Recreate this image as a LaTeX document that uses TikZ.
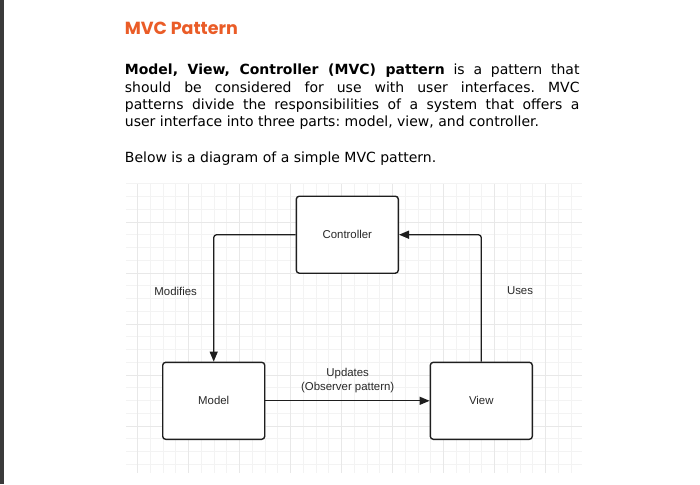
\documentclass[tikz,border=0pt]{standalone}
\usepackage{fontspec}
\setmainfont{DejaVu Sans}
\newfontfamily\diagfont{Liberation Sans}
\newfontfamily\titlefont{Poppins}
\usetikzlibrary{arrows.meta}
\definecolor{titleorange}{RGB}{234,92,39}
\definecolor{sidebar}{RGB}{58,58,58}
\definecolor{gridminor}{RGB}{243,243,243}
\definecolor{gridmajor}{RGB}{232,232,232}
\definecolor{boxline}{RGB}{30,30,30}
\definecolor{diagtext}{RGB}{40,40,40}
\tikzset{
  bodyline/.style={anchor=base west, inner sep=0pt, font=\frenchspacing\fontsize{14}{17}\selectfont, text=black},
  mvcbox/.style={draw=boxline, line width=1.4pt, rounded corners=3pt, fill=white,
    minimum width=102pt, minimum height=77pt, inner sep=0pt,
    font=\diagfont\fontsize{11.4}{14}\selectfont, text=diagtext},
  conn/.style={draw=boxline, line width=1.3pt, rounded corners=3pt,
    -{Triangle[length=10pt,width=8pt]}},
  lbl/.style={inner sep=0pt, align=center, font=\diagfont\fontsize{11.4}{14}\selectfont, text=diagtext},
  gminor/.style={draw=gridminor, line width=0.8pt},
  gmajor/.style={draw=gridmajor, line width=0.9pt}
}
\begin{document}
\begin{tikzpicture}[x=1pt,y=-1pt]
\useasboundingbox (0,0) rectangle (700,484);
\fill[white] (0,0) rectangle (700,484);
\fill[sidebar] (0,0) rectangle (4,484);

% grid
\foreach \k in {0,...,34} {
  \pgfmathsetmacro\xx{137.5+12.75*\k}
  \draw[gminor] (\xx,184) -- (\xx,473);
}
\foreach \k in {-1,...,21} {
  \pgfmathsetmacro\yy{196.5+12.75*\k}
  \draw[gminor] (126,\yy) -- (582,\yy);
}
\foreach \k in {0,4,...,32} {
  \pgfmathsetmacro\xx{137.5+12.75*\k}
  \draw[gmajor] (\xx,184) -- (\xx,473);
}
\foreach \k in {2,6,...,18} {
  \pgfmathsetmacro\yy{196.5+12.75*\k}
  \draw[gmajor] (126,\yy) -- (582,\yy);
}

% title and text
\node[anchor=base west, inner sep=0pt, font=\titlefont\bfseries\fontsize{17.5}{21}\selectfont, text=titleorange] (title) at (124.7,35) {MVC Pattern};
\node[bodyline] (l1) at (124.7,75) {\makebox[454.6pt][s]{\textbf{Model, View, Controller (MVC) pattern} is a pattern that}};
\node[bodyline] (l2) at (124.7,92.3) {\makebox[454.6pt][s]{should be considered for use with user interfaces. MVC}};
\node[bodyline] (l3) at (124.7,109.6) {\makebox[454.6pt][s]{patterns divide the responsibilities of a system that offers a}};
\node[bodyline] (l4) at (124.7,126.9) {user interface into three parts: model, view, and controller.};
\node[bodyline] (l5) at (124.7,162) {Below is a diagram of a simple MVC pattern.};

% boxes
\node[mvcbox] (ctrl) at (347.3,234.7) {Controller};
\node[mvcbox] (model) at (213.7,400.8) {Model};
\node[mvcbox] (view) at (481.3,400.8) {View};

% connectors
\draw[conn] (ctrl.west) -| (model.north);
\draw[conn] (view.north) |- (ctrl.east);
\draw[conn] (model.east) -- (view.west);

% labels
\node[lbl] (lmod) at (175.7,291) {Modifies};
\node[lbl] (luses) at (520,291) {Uses};
\node[lbl] (lupd) at (347.7,380.3) {Updates\\(Observer pattern)};
\end{tikzpicture}
\end{document}
